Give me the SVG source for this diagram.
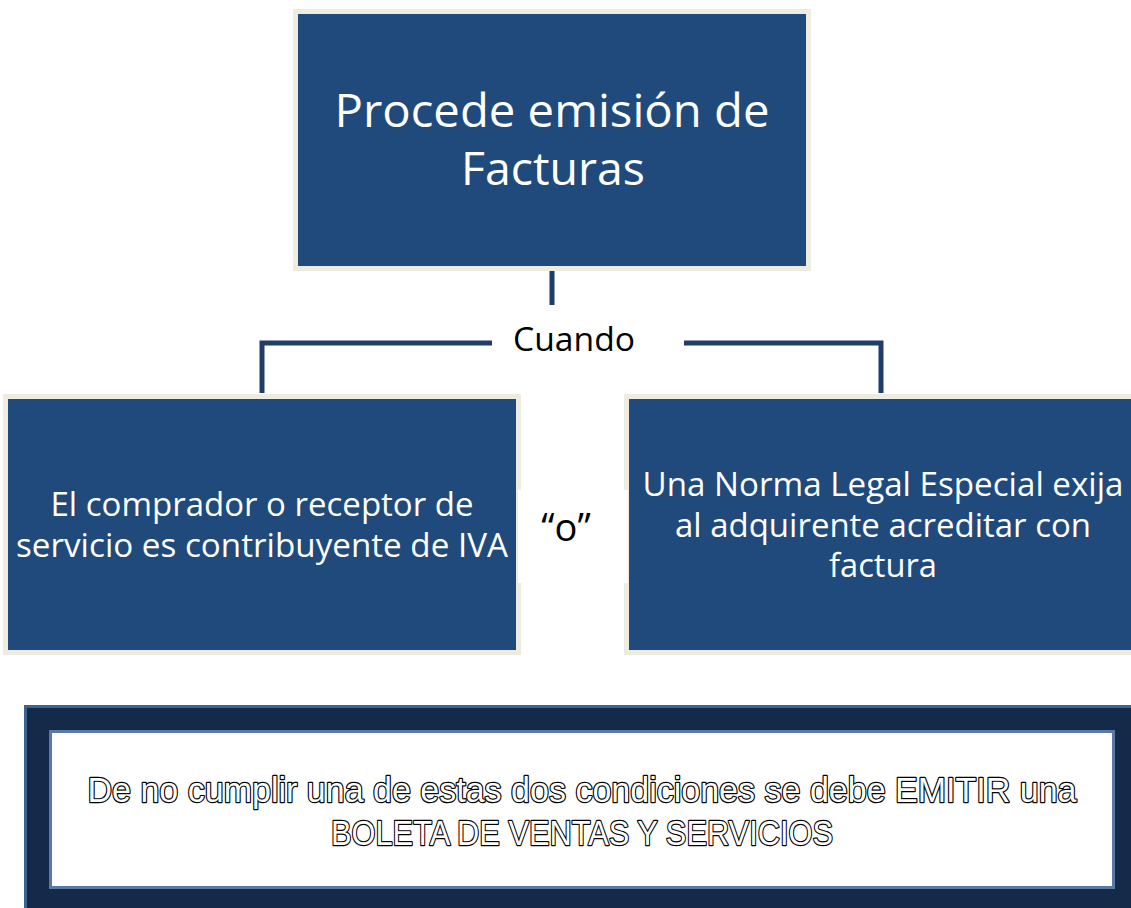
<svg xmlns="http://www.w3.org/2000/svg" width="1131" height="908" viewBox="0 0 1131 908">
<style>
.box{fill:#214a7c;stroke:#eeebe0;stroke-width:5}
.wt{fill:#ffffff;font-family:"Open Sans","Noto Sans",sans-serif;text-anchor:middle}
.bt{fill:#000000;font-family:"Open Sans","Noto Sans",sans-serif;text-anchor:middle}
.conn{fill:none;stroke:#1f3d68;stroke-width:5}
.ot{fill:#ffffff;stroke:#000000;stroke-width:2.4;stroke-linejoin:round;font-family:"Liberation Sans",sans-serif;text-anchor:middle;paint-order:stroke}
</style>
<rect width="1131" height="908" fill="#ffffff"/>
<g id="connectors">
<line class="conn" x1="552" y1="271" x2="552" y2="305"/>
<polyline class="conn" points="492,343 262,343 262,393"/>
<polyline class="conn" points="684,343 881,343 881,393"/>
</g>
<g id="node-top">
<rect class="box" x="295.5" y="11.5" width="513" height="257"/>
<text class="wt" x="552" y="127" font-size="46" textLength="435" lengthAdjust="spacingAndGlyphs">Procede emisión de</text>
<text class="wt" x="553" y="185" font-size="46" textLength="184" lengthAdjust="spacingAndGlyphs">Facturas</text>
</g>
<g id="label-cuando">
<text class="bt" x="574" y="351" font-size="32" textLength="122" lengthAdjust="spacingAndGlyphs">Cuando</text>
</g>
<g id="node-left">
<rect class="box" x="5.5" y="396.5" width="513" height="256"/>
<text class="wt" x="262" y="516" font-size="32" textLength="423" lengthAdjust="spacingAndGlyphs">El comprador o receptor de</text>
<text class="wt" x="262" y="557" font-size="32" textLength="492" lengthAdjust="spacingAndGlyphs">servicio es contribuyente de IVA</text>
</g>
<g id="node-right">
<rect class="box" x="626.5" y="396.5" width="510" height="256"/>
<text class="wt" x="883" y="496" font-size="32" textLength="481" lengthAdjust="spacingAndGlyphs">Una Norma Legal Especial exija</text>
<text class="wt" x="883" y="537" font-size="32" textLength="416" lengthAdjust="spacingAndGlyphs">al adquirente acreditar con</text>
<text class="wt" x="883" y="577" font-size="32" textLength="108" lengthAdjust="spacingAndGlyphs">factura</text>
</g>
<g id="label-o">
<rect x="518" y="490" width="110" height="93" fill="#ffffff"/>
<text class="bt" x="566" y="541" font-size="38">“o”</text>
</g>
<g id="node-bottom">
<rect x="25.5" y="706.5" width="1110" height="205" fill="#142a48" stroke="#3d6393" stroke-width="3"/>
<rect x="50.5" y="731.5" width="1063" height="156" fill="#ffffff" stroke="#5a7aa6" stroke-width="3"/>
<text class="ot" x="582" y="802" font-size="35" textLength="989" lengthAdjust="spacingAndGlyphs">De no cumplir una de estas dos condiciones se debe EMITIR una</text>
<text class="ot" x="582" y="845" font-size="35" textLength="502" lengthAdjust="spacingAndGlyphs">BOLETA DE VENTAS Y SERVICIOS</text>
</g>
</svg>
